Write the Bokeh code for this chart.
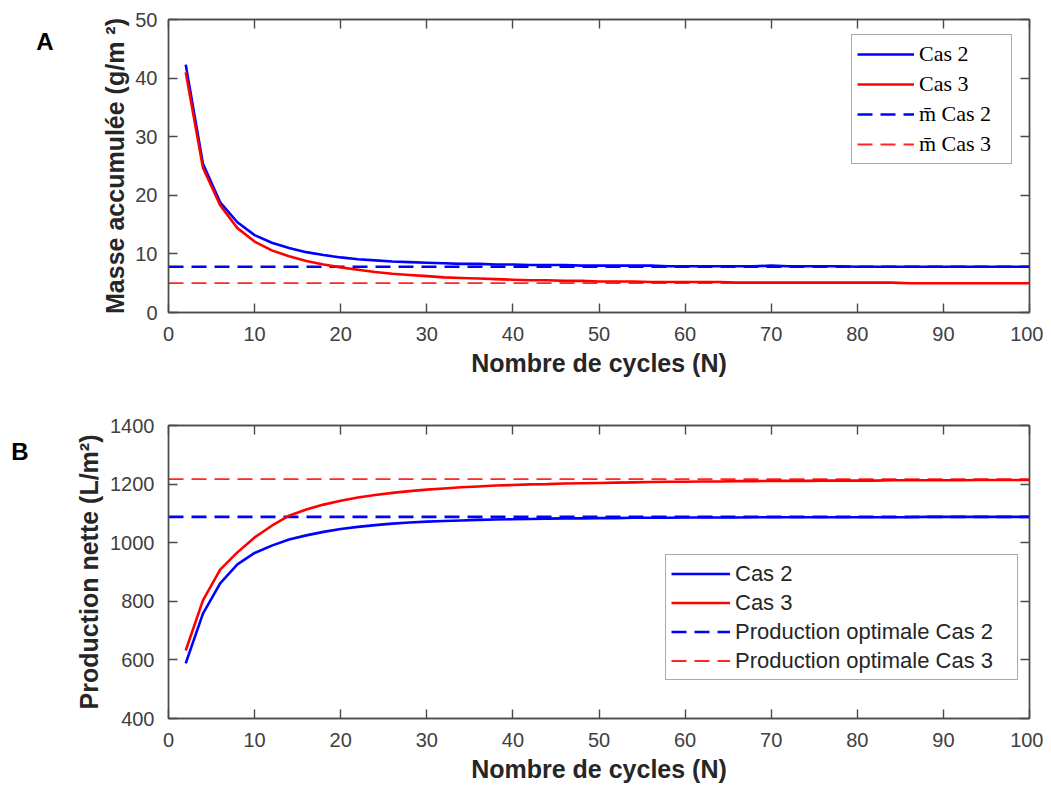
from bokeh.plotting import figure
from bokeh.models import (Range1d, LinearAxis, Legend, LegendItem, FixedTicker,
                          CustomJSTickFormatter)
from bokeh.layouts import column
from bokeh.embed import file_html
from bokeh.resources import INLINE

# ---------------- data ----------------
cycles = list(range(2, 101, 2))

masse_cas2 = [42.3, 25.4, 18.8, 15.4, 13.2, 11.9, 11.0, 10.3, 9.8, 9.4,
              9.1, 8.9, 8.7, 8.6, 8.5, 8.4, 8.3, 8.3, 8.2, 8.2,
              8.1, 8.1, 8.1, 8.0, 8.0, 8.0, 8.0, 8.0, 7.9, 7.9,
              7.9, 7.9, 7.9, 7.9, 8.0, 7.9, 7.9, 7.9, 7.9, 7.8,
              7.8, 7.8, 7.8, 7.8, 7.8, 7.8, 7.8, 7.8, 7.8, 7.8]
masse_cas3 = [41.0, 24.7, 18.3, 14.4, 12.1, 10.6, 9.6, 8.8, 8.2, 7.7,
              7.3, 6.9, 6.6, 6.4, 6.2, 6.0, 5.9, 5.8, 5.7, 5.6,
              5.5, 5.5, 5.4, 5.4, 5.3, 5.3, 5.3, 5.2, 5.2, 5.2,
              5.2, 5.2, 5.1, 5.1, 5.1, 5.1, 5.1, 5.1, 5.1, 5.1,
              5.1, 5.1, 5.0, 5.0, 5.0, 5.0, 5.0, 5.0, 5.0, 5.0]
masse_moy_cas2 = 7.8
masse_moy_cas3 = 5.0

prod_cas2 = [588, 758, 861, 926, 965, 990, 1011, 1025, 1037, 1047,
             1054, 1060, 1065, 1069, 1072, 1074, 1076, 1078, 1079, 1080,
             1081, 1082, 1083, 1083, 1084, 1084, 1085, 1085, 1085, 1086,
             1086, 1086, 1086, 1087, 1087, 1087, 1087, 1087, 1087, 1087,
             1087, 1087, 1087, 1088, 1088, 1088, 1088, 1088, 1088, 1088]
prod_cas3 = [632, 803, 908, 967, 1018, 1058, 1092, 1113, 1130, 1143,
             1154, 1163, 1170, 1176, 1181, 1185, 1189, 1192, 1195, 1197,
             1199, 1200, 1202, 1203, 1204, 1205, 1206, 1207, 1208, 1208,
             1209, 1209, 1210, 1210, 1211, 1211, 1211, 1212, 1212, 1212,
             1212, 1213, 1213, 1213, 1213, 1213, 1214, 1214, 1214, 1214]
prod_opt_cas2 = 1088
prod_opt_cas3 = 1217

x_ticks = [0, 10, 20, 30, 40, 50, 60, 70, 80, 90, 100]
yA_ticks = [0, 10, 20, 30, 40, 50]
yB_ticks = [400, 600, 800, 1000, 1200, 1400]

x_label = "Nombre de cycles (N)"
yA_label = "Masse accumulée (g/m ²)"
yB_label = "Production nette (L/m²)"
panel_letters = ["A", "B"]

BLUE = "#0000ff"
RED = "#ff0000"
AX = "#4a4a4a"
TICKTXT = "#404040"
LABTXT = "#262626"


def style_axis(ax, ticks, show_labels=True, tick_standoff=14, label_standoff=6):
    ax.ticker = FixedTicker(ticks=ticks)
    ax.major_tick_in = 9
    ax.major_tick_out = 0
    ax.minor_tick_in = 0
    ax.minor_tick_out = 0
    ax.axis_line_color = AX
    ax.axis_line_width = 1.4
    ax.major_tick_line_color = AX
    ax.major_tick_line_width = 1.4
    if show_labels:
        ax.major_label_text_font = "Liberation Sans"
        ax.major_label_text_font_size = "20px"
        ax.major_label_text_color = TICKTXT
        ax.major_label_standoff = tick_standoff
        ax.axis_label_text_font = "Liberation Sans"
        ax.axis_label_text_font_style = "bold"
        ax.axis_label_text_font_size = "25px"
        ax.axis_label_text_color = LABTXT
        ax.axis_label_standoff = label_standoff
    else:
        ax.major_label_text_font_size = "0px"
        ax.major_label_text_color = None
        ax.major_label_standoff = 0


def letter_axis(letter, pos, standoff):
    # panel letter drawn as the single label of an extra, invisible left axis
    ax = LinearAxis(ticker=FixedTicker(ticks=[pos]),
                    formatter=CustomJSTickFormatter(code="return '%s'" % letter))
    ax.axis_line_color = None
    ax.major_tick_line_color = None
    ax.minor_tick_line_color = None
    ax.major_tick_in = 0
    ax.major_tick_out = 0
    ax.major_label_standoff = standoff
    ax.major_label_text_font = "Liberation Sans"
    ax.major_label_text_font_style = "bold"
    ax.major_label_text_font_size = "24px"
    ax.major_label_text_color = "black"
    return ax


def make_fig(yticks, ylabel, top, bottom, y_tick_standoff, y_label_standoff):
    p = figure(frame_width=861, frame_height=293,
               x_range=Range1d(x_ticks[0], x_ticks[-1]),
               y_range=Range1d(yticks[0], yticks[-1]),
               output_backend="svg", toolbar_location=None,
               min_border_left=168, min_border_right=14,
               min_border_top=top, min_border_bottom=bottom,
               background_fill_color="white", border_fill_color="white")
    p.grid.visible = False
    p.outline_line_color = AX
    p.outline_line_width = 1.4
    style_axis(p.xaxis[0], x_ticks, tick_standoff=14, label_standoff=5)
    style_axis(p.yaxis[0], yticks, tick_standoff=y_tick_standoff, label_standoff=y_label_standoff)
    p.xaxis[0].axis_label = x_label
    p.yaxis[0].axis_label = ylabel
    ax_top = LinearAxis()
    style_axis(ax_top, x_ticks, show_labels=False)
    ax_right = LinearAxis()
    style_axis(ax_right, yticks, show_labels=False)
    p.add_layout(ax_top, "above")
    p.add_layout(ax_right, "right")
    return p


# ---------------- panel A ----------------
pA = make_fig(yA_ticks, yA_label, 19, 80, 11, 3)
xs_full = [x_ticks[0], x_ticks[-1]]
rA1 = pA.line(cycles, masse_cas2, line_color=BLUE, line_width=2.6)
rA2 = pA.line(cycles, masse_cas3, line_color=RED, line_width=2.6)
rA3 = pA.line(xs_full, [masse_moy_cas2] * 2, line_color=BLUE, line_width=2.6, line_dash="15 8")
rA4 = pA.line(xs_full, [masse_moy_cas3] * 2, line_color=RED, line_width=1.8, line_dash="15 8", line_alpha=0.85)
pA.renderers = [rA3, rA4, rA1, rA2]

legA = Legend(items=[LegendItem(label="Cas 2", renderers=[rA1]),
                     LegendItem(label="Cas 3", renderers=[rA2]),
                     LegendItem(label="m\u0304 Cas 2", renderers=[rA3]),
                     LegendItem(label="m\u0304 Cas 3", renderers=[rA4])],
              location=(683, 148), orientation="vertical",
              glyph_width=57, glyph_height=28, label_height=28, label_width=87,
              label_standoff=5, spacing=2, padding=5, margin=0,
              label_text_font="Liberation Serif", label_text_font_size="22px",
              label_text_color="black",
              border_line_color="#555555", border_line_width=1.3,
              background_fill_color="white", background_fill_alpha=1.0)
pA.add_layout(legA)
pA.add_layout(letter_axis(panel_letters[0], 46.3, 45), "left")

# ---------------- panel B ----------------
pB = make_fig(yB_ticks, yB_label, 33, 70, 14, 4)
rB1 = pB.line(cycles, prod_cas2, line_color=BLUE, line_width=2.6)
rB2 = pB.line(cycles, prod_cas3, line_color=RED, line_width=2.6)
rB3 = pB.line(xs_full, [prod_opt_cas2] * 2, line_color=BLUE, line_width=2.6, line_dash="15 8")
rB4 = pB.line(xs_full, [prod_opt_cas3] * 2, line_color=RED, line_width=1.8, line_dash="15 8", line_alpha=0.85)
pB.renderers = [rB3, rB4, rB1, rB2]

legB = Legend(items=[LegendItem(label="Cas 2", renderers=[rB1]),
                     LegendItem(label="Cas 3", renderers=[rB2]),
                     LegendItem(label="Production optimale Cas 2", renderers=[rB3]),
                     LegendItem(label="Production optimale Cas 3", renderers=[rB4])],
              location=(497, 38), orientation="vertical",
              glyph_width=59, glyph_height=27, label_height=27, label_width=277,
              label_standoff=5, spacing=2, padding=5, margin=0,
              label_text_font="Liberation Sans", label_text_font_size="22px",
              label_text_color=LABTXT,
              border_line_color="#555555", border_line_width=1.3,
              background_fill_color="white", background_fill_alpha=1.0)
pB.add_layout(legB)
pB.add_layout(letter_axis(panel_letters[1], 1311, 44), "left")

layout = column(pA, pB, spacing=0)
open("out.html", "w").write(file_html(layout, INLINE))
